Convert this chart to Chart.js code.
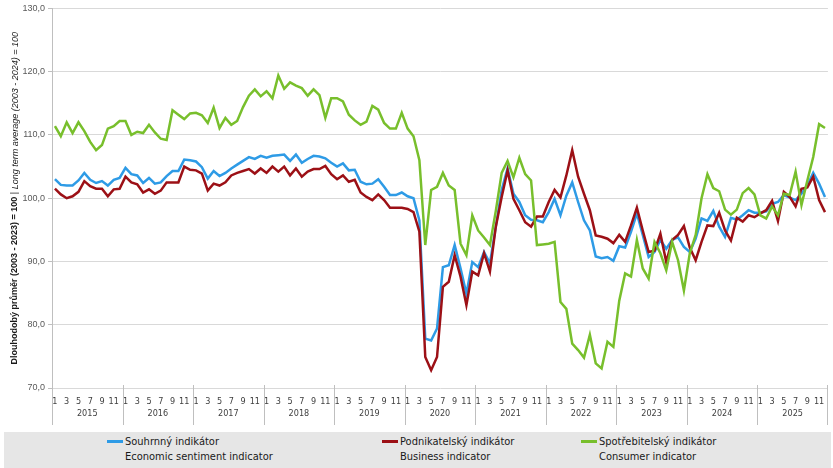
<!DOCTYPE html>
<html>
<head>
<meta charset="utf-8">
<script src="https://cdn.jsdelivr.net/npm/chart.js@4.4.1/dist/chart.umd.min.js"></script>
<style>
  html, body { margin: 0; padding: 0; background: #fff; }
  #wrap { position: relative; width: 833px; height: 468px; overflow: hidden; }
  #chartBox { position: absolute; left: 0; top: 0; width: 833px; height: 430px; }
  #legend { position: absolute; left: 4px; top: 432px; width: 827px; height: 40px; background: #e6e6e6;
            font-family: "Liberation Sans Narrow", "DejaVu Sans Condensed", Arial, sans-serif; font-size: 11px; color: #1a1a1a; }
  .item { position: absolute; top: 2px; line-height: 15px; white-space: nowrap; }
  .swatch { position: absolute; left: -18px; top: 6px; width: 16px; height: 3px; }
</style>
</head>
<body>
<div id="wrap">
  <div id="chartBox"><canvas id="chart"></canvas></div>
  <div id="legend">
    <div class="item" style="left:121px"><span class="swatch" style="background:#2e9be6"></span>Souhrnný indikátor<br>Economic sentiment indicator</div>
    <div class="item" style="left:396px"><span class="swatch" style="background:#9c1016"></span>Podnikatelský indikátor<br>Business indicator</div>
    <div class="item" style="left:595px"><span class="swatch" style="background:#78bf2c"></span>Spotřebitelský indikátor<br>Consumer indicator</div>
  </div>
</div>
<script>
const years = ['2015', '2016', '2017', '2018', '2019', '2020', '2021', '2022', '2023', '2024', '2025'];
const monthTicks = ['1', '2', '3', '4', '5', '6', '7', '8', '9', '10', '11', '12'];
const yTicks = [70, 80, 90, 100, 110, 120, 130];

// Souhrnný indikátor | Economic sentiment indicator
const sentiment = [
  103.0, 102.1, 102.0, 102.0, 102.8, 104.0, 102.9, 102.4, 102.7, 102.0, 102.9, 103.2,
  104.8, 103.8, 103.6, 102.4, 103.2, 102.3, 102.5, 103.5, 104.3, 104.3, 106.1, 106.0,
  105.8, 104.9, 103.1, 104.3, 103.5, 104.0, 104.7, 105.3, 105.9, 106.5, 106.2, 106.7,
  106.4, 106.7, 106.8, 106.9, 105.9, 106.9, 105.6, 106.2, 106.7, 106.6, 106.3, 105.6,
  105.0, 105.5, 104.4, 104.5, 102.6, 102.2, 102.3, 103.0, 101.8, 100.5, 100.5, 100.9,
  100.3, 100.0, 96.5, 77.8, 77.5, 79.4, 89.1, 89.4, 92.6, 88.9, 84.9, 89.9,
  89.1, 91.5, 89.7, 95.5, 101.3, 104.7, 100.7, 99.4, 97.3, 96.6, 96.5, 96.2,
  97.8, 99.9, 97.3, 100.4, 102.5, 99.4, 96.5, 94.9, 90.8, 90.5, 90.7, 90.1,
  92.4, 92.2, 94.7, 97.6, 94.2, 90.7, 91.5, 93.4, 92.0, 93.4, 93.8, 92.3,
  91.5, 93.6, 96.8, 96.4, 98.0, 95.5, 93.9, 96.9, 96.6, 97.3, 98.1, 97.7,
  97.7, 97.9, 99.1, 99.4, 100.5, 100.1, 99.7, 100.7, 102.0, 104.0, 102.3, 100.2
];

// Podnikatelský indikátor | Business indicator
const business = [
  101.5, 100.6, 100.0, 100.3, 101.0, 102.7, 101.9, 101.5, 101.5, 100.3, 101.4, 101.5,
  103.4, 102.5, 102.2, 100.9, 101.4, 100.7, 101.2, 102.5, 102.5, 102.5, 105.0, 104.5,
  104.4, 103.9, 101.2, 102.3, 102.0, 102.5, 103.6, 104.0, 104.3, 104.6, 103.9, 104.7,
  104.0, 105.0, 104.2, 105.0, 103.6, 104.7, 103.4, 104.2, 104.6, 104.6, 105.1, 103.8,
  103.0, 103.6, 102.6, 102.9, 100.9, 100.2, 99.7, 100.6, 99.7, 98.5, 98.5, 98.5,
  98.3, 97.8, 94.7, 74.9, 72.8, 74.9, 86.0, 86.8, 91.0, 87.6, 83.1, 88.4,
  87.8, 91.3, 88.4, 95.5, 100.2, 104.4, 99.9, 98.1, 96.2, 95.5, 97.1, 97.1,
  99.4, 101.3, 100.1, 103.6, 107.6, 103.4, 100.7, 98.1, 94.1, 93.9, 93.6, 92.9,
  94.2, 93.1, 95.7, 98.5, 94.9, 91.5, 91.7, 94.4, 89.9, 93.4, 94.2, 95.6,
  92.2, 90.2, 93.1, 95.7, 95.6, 97.7, 94.9, 93.3, 96.9, 96.3, 97.3, 97.0,
  97.6, 98.1, 99.6, 96.4, 101.0, 100.2, 98.7, 101.5, 101.7, 103.4, 99.7, 97.8
];

// Spotřebitelský indikátor | Consumer indicator
const consumer = [
  111.4, 109.8, 112.0, 110.3, 112.0, 110.6, 108.9, 107.6, 108.4, 111.0, 111.4, 112.2,
  112.2, 110.0, 110.5, 110.3, 111.6, 110.4, 109.4, 109.2, 113.9, 113.2, 112.5, 113.4,
  113.5, 113.1, 111.9, 114.3, 111.1, 112.7, 111.6, 112.2, 114.4, 116.2, 117.2, 116.1,
  116.9, 115.8, 119.4, 117.3, 118.3, 117.8, 117.4, 116.2, 117.2, 116.3, 112.7, 115.8,
  115.8, 115.3, 113.2, 112.3, 111.6, 112.1, 114.6, 114.0, 111.9, 111.0, 111.0, 113.5,
  111.0, 109.8, 106.0, 92.6, 101.3, 101.8, 104.0, 102.0, 101.3, 92.8, 91.0, 97.3,
  94.9, 93.8, 92.6, 98.0, 104.0, 105.9, 103.3, 106.4, 103.8, 102.8, 92.6, 92.7,
  92.8, 93.1, 83.6, 82.5, 77.0, 76.0, 74.8, 78.4, 73.9, 73.1, 77.3, 76.5,
  83.8, 88.1, 87.6, 93.4, 88.9, 87.3, 93.1, 91.3, 88.6, 93.1, 90.2, 85.4,
  91.3, 94.2, 100.0, 103.8, 101.6, 101.1, 98.2, 97.4, 98.2, 100.8, 101.6, 100.6,
  97.3, 96.8, 98.7, 97.3, 100.7, 100.5, 104.2, 98.9, 102.8, 106.5, 111.7, 111.1
];

const labels = [];
years.forEach(() => monthTicks.forEach(m => labels.push(m)));

const narrow = '"Liberation Sans Narrow", "DejaVu Sans Condensed", Arial, sans-serif';

// year separators, year labels and the two-style y axis title
const axisDecor = {
  id: 'axisDecor',
  afterDraw(chart) {
    const { ctx, chartArea: a, scales: { x } } = chart;
    const half = (x.getPixelForValue(1) - x.getPixelForValue(0)) / 2;
    ctx.save();
    ctx.strokeStyle = '#bfbfbf';
    ctx.lineWidth = 1;
    ctx.fillStyle = '#404040';
    ctx.font = '9px ' + narrow;
    ctx.textAlign = 'center';
    ctx.textBaseline = 'middle';
    years.forEach((yr, k) => {
      const left = x.getPixelForValue(k * 12) - half;
      const right = x.getPixelForValue(k * 12 + 11) + half;
      ctx.beginPath();
      ctx.moveTo(Math.round(left) + 0.5, a.bottom - 3);
      ctx.lineTo(Math.round(left) + 0.5, a.bottom + 37);
      ctx.stroke();
      if (k === years.length - 1) {
        ctx.beginPath();
        ctx.moveTo(Math.round(right) - 0.5, a.bottom - 3);
        ctx.lineTo(Math.round(right) - 0.5, a.bottom + 37);
        ctx.stroke();
      }
      ctx.fillText(yr, (left + right) / 2, a.bottom + 26);
    });

    // rotated y title
    const boldTxt = 'Dlouhodobý průměr (2003 - 2023) = 100';
    const sepTxt = ' | ';
    const itTxt = 'Long term average (2003 - 2024) = 100';
    const fB = 'bold 9px "Liberation Sans", Arial, sans-serif';
    const fN = '9px "Liberation Sans", Arial, sans-serif';
    const fI = 'italic 9px "Liberation Sans", Arial, sans-serif';
    ctx.font = fB; const wB = ctx.measureText(boldTxt).width;
    ctx.font = fN; const wS = ctx.measureText(sepTxt).width;
    ctx.font = fI; const wI = ctx.measureText(itTxt).width;
    const total = wB + wS + wI;
    ctx.translate(15, (a.top + a.bottom) / 2);
    ctx.rotate(-Math.PI / 2);
    ctx.textAlign = 'left';
    ctx.fillStyle = '#1a1a1a';
    let pos = -total / 2;
    ctx.font = fB; ctx.fillText(boldTxt, pos, 0); pos += wB;
    ctx.font = fN; ctx.fillText(sepTxt, pos, 0); pos += wS;
    ctx.font = fI; ctx.fillText(itTxt, pos, 0);
    ctx.restore();
  }
};

new Chart(document.getElementById('chart'), {
  type: 'line',
  data: {
    labels: labels,
    datasets: [
      { label: 'Souhrnný indikátor', data: sentiment, borderColor: '#2e9be6', order: 3 },
      { label: 'Podnikatelský indikátor', data: business, borderColor: '#9c1016', order: 2 },
      { label: 'Spotřebitelský indikátor', data: consumer, borderColor: '#78bf2c', order: 1 }
    ].map(d => Object.assign(d, { borderWidth: 2.5, pointRadius: 0, tension: 0, fill: false }))
  },
  options: {
    responsive: true,
    maintainAspectRatio: false,
    animation: false,
    layout: { padding: { left: 0, right: 4, top: 8, bottom: 0 } },
    plugins: { legend: { display: false }, tooltip: { enabled: false } },
    scales: {
      x: {
        offset: true,
        grid: { display: false, drawTicks: false },
        border: { display: false },
        ticks: {
          autoSkip: false, maxRotation: 0, minRotation: 0, padding: 8,
          color: '#404040', font: { family: narrow, size: 9 },
          callback: (v, i) => (i % 2 === 0 ? labels[i] : '')
        },
        afterFit: s => { s.height = 42; }
      },
      y: {
        min: 70, max: 130,
        afterBuildTicks: s => { s.ticks = yTicks.map(v => ({ value: v })); },
        grid: { color: '#d9d9d9', tickLength: 4, tickColor: '#bfbfbf' },
        border: { color: '#bfbfbf' },
        ticks: {
          padding: 3, color: '#595959',
          font: { family: '"Liberation Sans", Arial, sans-serif', size: 9 },
          callback: v => v.toFixed(1).replace('.', ',')
        },
        afterFit: s => { s.width = 52; }
      }
    }
  },
  plugins: [axisDecor]
});
</script>
</body>
</html>
